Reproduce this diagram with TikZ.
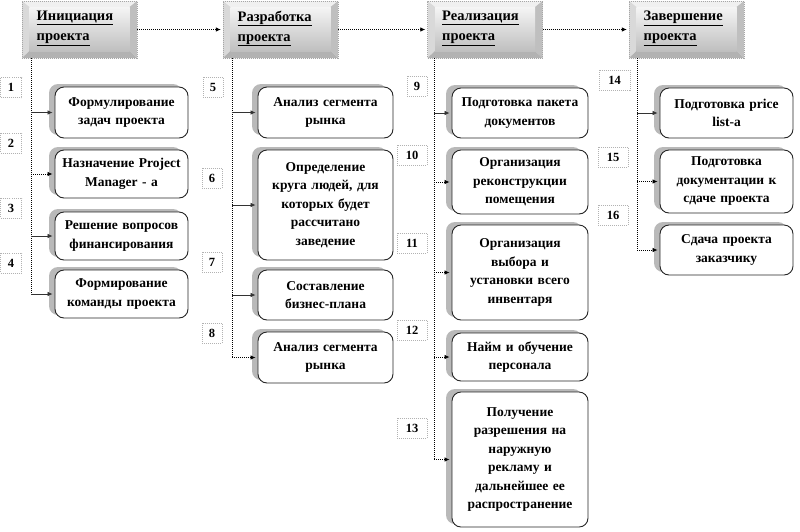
\documentclass[tikz,border=0pt]{standalone}
\usepackage{fontspec}
\setmainfont{Liberation Serif}
\usetikzlibrary{shadows,arrows.meta}
\begin{document}
\begin{tikzpicture}[x=1pt,y=-1pt,
  font=\bfseries\fontsize{13.5}{18.5}\selectfont,
  box/.style={draw=black!85, line width=0.9pt, rounded corners=9pt, fill=white, align=center, inner sep=2pt,
    general shadow={fill=gray!55, shadow xshift=-6pt, shadow yshift=3pt}},
  numbox/.style={draw=gray!60, dash pattern=on 1pt off 1pt, line width=0.7pt, fill=white, minimum height=20pt, inner sep=1pt,
    font=\bfseries\fontsize{12.5}{14}\selectfont},
  hdr/.style={minimum width=115pt, minimum height=57pt, inner sep=0pt},
  hdrtext/.style={anchor=west, align=left, inner sep=0pt, font=\bfseries\fontsize{14.5}{20}\selectfont},
  dotline/.style={line width=0.8pt, dash pattern=on 1pt off 1pt},
  solline/.style={line width=0.7pt, draw=black!80},
  arr/.style={-{Latex[length=5pt,width=4.5pt]}, shorten >=2pt}
]
\useasboundingbox (0,0) rectangle (800,531);

% ---------- headers ----------
\foreach \nm/\cx/\lab in {h1/79.5/{Инициация}, h2/280.5/{Разработка}, h3/485/{Реализация}, h4/686.5/{Завершение}} {
  \fill[gray!12] (\cx-57.5,1) -- (\cx+57.5,1) -- (\cx+50,7) -- (\cx-50,7) -- cycle;
  \fill[gray!30] (\cx-57.5,1) -- (\cx-50,7) -- (\cx-50,51) -- (\cx-57.5,58) -- cycle;
  \fill[gray!50] (\cx+57.5,1) -- (\cx+57.5,58) -- (\cx+50,51) -- (\cx+50,7) -- cycle;
  \fill[gray!60] (\cx-57.5,58) -- (\cx+57.5,58) -- (\cx+50,51) -- (\cx-50,51) -- cycle;
  \shade[top color=gray!8, bottom color=gray!50] (\cx-50,7) rectangle (\cx+50,51);
  \node[hdr, draw=gray!70, dash pattern=on 1pt off 1pt] (\nm) at (\cx,29.5) {};
  \node[hdrtext] (\nm t) at (\cx-43,28.5) {\underline{\lab}\\\underline{проекта}};
}

% ---------- column 1 ----------
\node[box, minimum width=133pt, minimum height=51pt, text width=129pt] (b1) at (121.5,112.5) {Формулирование\\задач проекта};
\node[box, minimum width=133pt, minimum height=48pt, text width=129pt] (b2) at (121.5,174) {Назначение Project\\Manager - a};
\node[box, minimum width=133pt, minimum height=48pt, text width=129pt] (b3) at (121.5,236) {Решение вопросов\\финансирования};
\node[box, minimum width=133pt, minimum height=48pt, text width=129pt] (b4) at (121.5,294) {Формирование\\команды проекта};

% ---------- column 2 ----------
\node[box, minimum width=135pt, minimum height=51pt, text width=131pt] (b5) at (325.5,112.5) {Анализ сегмента\\рынка};
\node[box, minimum width=135pt, minimum height=110pt, text width=131pt] (b6) at (325.5,205) {Определение\\круга людей, для\\которых будет\\рассчитано\\заведение};
\node[box, minimum width=135pt, minimum height=50pt, text width=131pt] (b7) at (325.5,295) {Составление\\бизнес-плана};
\node[box, minimum width=135pt, minimum height=51pt, text width=131pt] (b8) at (325.5,357.5) {Анализ сегмента\\рынка};

% ---------- column 3 ----------
\node[box, minimum width=136pt, minimum height=50pt, text width=132pt] (b9) at (520,113) {Подготовка пакета\\документов};
\node[box, minimum width=136pt, minimum height=64pt, text width=132pt] (b10) at (520,182) {Организация\\реконструкции\\помещения};
\node[box, minimum width=136pt, minimum height=95pt, text width=132pt] (b11) at (520,272.5) {Организация\\выбора и\\установки всего\\инвентаря};
\node[box, minimum width=136pt, minimum height=48pt, text width=132pt] (b12) at (520,357) {Найм и обучение\\персонала};
\node[box, minimum width=136pt, minimum height=135pt, text width=132pt] (b13) at (520,459.5) {Получение\\разрешения на\\наружную\\рекламу и\\дальнейшее ее\\распространение};

% ---------- column 4 ----------
\node[box, minimum width=133pt, minimum height=50pt, text width=129pt] (b14) at (726.5,113) {Подготовка price\\list-a};
\node[box, minimum width=133pt, minimum height=63pt, text width=129pt] (b15) at (726.5,181.5) {Подготовка\\документации к\\сдаче проекта};
\node[box, minimum width=133pt, minimum height=50pt, text width=129pt] (b16) at (726.5,250) {Сдача проекта\\заказчику};

% ---------- number boxes ----------
\foreach \nm/\x/\y/\w in {1/11/87.5/21, 2/11/143/21, 3/11/208/21, 4/11/263/21,
  5/213/87/20, 6/212/178/20, 7/212/262/20, 8/212/333/20,
  9/417/86/20, 10/412/155/30, 11/412/243/30, 12/412/330/30, 13/412/428/30,
  14/614.5/80/31, 15/613/157/30, 16/613/215/30} {
  \node[numbox, minimum width=\w pt] (n\nm) at (\x,\y) {\nm};
}

% ---------- header connectors ----------
\draw[dotline, arr] (h1.east) -- (h2.west);
\draw[dotline, arr] (h2.east) -- (h3.west);
\draw[dotline, arr] (h3.east) -- (h4.west);

% ---------- trunks ----------
\coordinate (t1) at (31,58);
\coordinate (t2) at (232,58);
\coordinate (t3) at (434,58);
\coordinate (t4) at (637,58);
\draw[dotline] (t1) -- (t1 |- b4.west);
\draw[dotline] (t2) -- (t2 |- b8.west);
\draw[dotline] (t3) -- (t3 |- b13.west);
\draw[dotline] (t4) -- (t4 |- b16.west);

% ---------- branches ----------
\draw[solline, arr] (t1 |- b1.west) -- (b1.west);
\draw[dotline, arr] (t1 |- b2.west) -- (b2.west);
\draw[solline, arr] (t1 |- b3.west) -- (b3.west);
\draw[solline, arr] (t1 |- b4.west) -- (b4.west);

\draw[solline, arr] (t2 |- b5.west) -- (b5.west);
\draw[solline, arr] (t2 |- b6.west) -- (b6.west);
\draw[solline, arr] (t2 |- b7.west) -- (b7.west);
\draw[dotline, arr] (t2 |- b8.west) -- (b8.west);

\draw[solline, arr] (t3 |- b9.west) -- (b9.west);
\draw[dotline, arr] (t3 |- b10.west) -- (b10.west);
\draw[dotline, arr] (t3 |- b11.west) -- (b11.west);
\draw[dotline, arr] (t3 |- b12.west) -- (b12.west);
\draw[dotline, arr] (t3 |- b13.west) -- (b13.west);

\draw[solline, arr] (t4 |- b14.west) -- (b14.west);
\draw[dotline, arr] (t4 |- b15.west) -- (b15.west);
\draw[dotline, arr] (t4 |- b16.west) -- (b16.west);
\end{tikzpicture}
\end{document}
